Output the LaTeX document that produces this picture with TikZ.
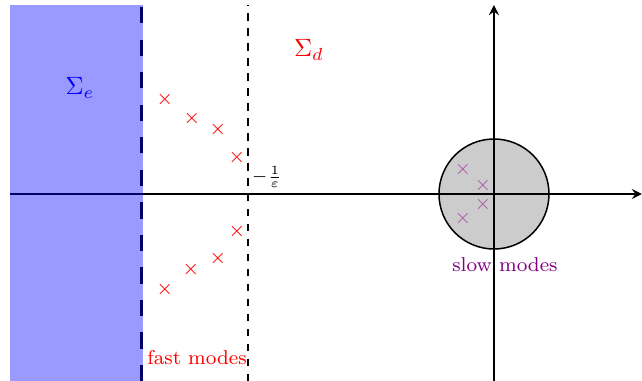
\documentclass[tikz,border=0pt]{standalone}
\usepackage{amsmath,amssymb}
\usepackage{tikz}
\usetikzlibrary{positioning,calc}

\begin{document}
\begin{tikzpicture}[x=0.4pt,y=0.4pt,
  mode/.style={font=\footnotesize,inner sep=0pt},
  lbl/.style={font=\footnotesize}]
% complex plane: slow modes near the origin, fast modes left of -1/eps
\useasboundingbox (-494,-187) rectangle (148,194);
\coordinate (O) at (0,0);
\coordinate (W) at (-484,0);
\coordinate (E) at (148,0);
\coordinate (S) at (0,-187);
\coordinate (N) at (0,189);
\draw[thick,-stealth] (W) -- (E);
\draw[thick,-stealth] (S) -- (N);
% stable region Sigma_e (shaded) and its border
\coordinate (eb) at (-352,-187);
\coordinate (et) at (-352,189);
\coordinate (db) at (-246,-187);
\coordinate (dt) at (-246,189);
\draw[very thick,dash pattern=on 6.5pt off 6.5pt] (eb) -- (et);
\fill[blue,fill opacity=0.4] (-484,-187) rectangle ($(et)+(1.5,0)$);
\draw[semithick,dashed] (db) -- (dt);
% disc of slow modes
\draw[semithick,fill=black,fill opacity=0.2] (O) circle (55);
\foreach \px/\py [count=\i] in {-31/25,-11/9,-11/-10,-31/-24}
  \node[mode,violet!65] (s\i) at (\px,\py) {$\times$};
% fast modes
\foreach \px/\py [count=\i] in {-329/95,-302/76,-276/65,-257/37,-257/-37,-276/-64,-303/-75,-329/-95}
  \node[mode,red] (f\i) at (\px,\py) {$\times$};
% labels
\node[red] (Sd) at (-185,144) {$\Sigma_d$};
\node[blue] (Se) at (-414,106) {$\Sigma_e$};
\node[font=\scriptsize] (eps) at (-227,17) {$-\frac{1}{\varepsilon}$};
\node[lbl,red] (fast) at (-297,-164) {fast modes};
\node[lbl,violet] (slow) at (11,-71) {slow modes};
\end{tikzpicture}
\end{document}
